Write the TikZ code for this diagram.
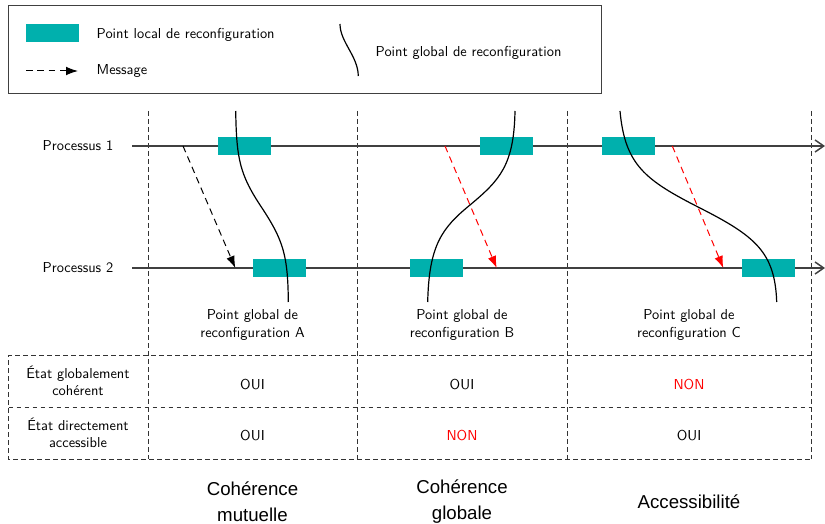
\documentclass[tikz,border=0pt]{standalone}
\usepackage{fontspec}
\newfontfamily\captionfont{Liberation Sans}
\usepackage{xcolor}
\definecolor{mTeal}{HTML}{00B0AD}
\definecolor{mRed}{HTML}{FF0000}
\definecolor{mAxis}{HTML}{404040}
\usepackage{tikz}
\usetikzlibrary{arrows.meta}

\begin{document}
\begin{tikzpicture}[x=0.75pt, y=-0.75pt, font=\sffamily\fontsize{10.8}{13}\selectfont,
  lpoint/.style={fill=mTeal, minimum width=39.75pt, minimum height=13.5pt, inner sep=0pt},
  procline/.style={draw=mAxis, line width=1.1pt, -{Straight Barb[length=6.5pt,width=9pt]}},
  gline/.style={draw=black, line width=0.9pt},
  msg/.style={-{Latex[length=9pt,width=6.5pt]}, dash pattern=on 5pt off 3.5pt, line width=0.75pt},
  sep/.style={draw=black!80, dash pattern=on 3.5pt off 2.5pt, line width=0.7pt},
  capt/.style={align=center, font=\captionfont\fontsize{14}{19.5}\selectfont}]
\useasboundingbox (0,0) rectangle (825,524);

\draw[draw=mAxis, line width=0.75pt] (8.7,6) rectangle (601.7,94);
\node[lpoint] (lgloc) at (52.5,33) {};
\node[anchor=west] (lgloctxt) at (92,35) {Point local de reconfiguration};
\coordinate (lgm1) at (26,71);
\coordinate (lgm2) at (78,71);
\draw[msg] (lgm1) -- (lgm2);
\node[anchor=west] (lgmtxt) at (92,71) {Message};
\coordinate (lgg1) at (340,24);
\coordinate (lgg2) at (358.3,76);
\draw[gline] (lgg1) .. controls (340,42) and (358,56) .. (lgg2);
\node[anchor=west] (lggtxt) at (371,53) {Point global de reconfiguration};

\foreach \x in {148.7,357,567,811.7}
  \draw[sep] (\x,111) -- (\x,459.3);
\draw[sep] (811.7,355) -- (8.7,355) -- (8.7,459.3) -- (811.7,459.3);
\draw[sep] (8.7,407.5) -- (811.7,407.5);

\node (p1) at (78,146) {Processus 1};
\node (p2) at (78,268) {Processus 2};
\coordinate (p1s) at (132,146);
\coordinate (p1e) at (825,146);
\coordinate (p2s) at (132,268);
\coordinate (p2e) at (825,268);
\draw[procline] (p1s) -- (p1e);
\draw[procline] (p2s) -- (p2e);

\node[lpoint] (la1) at (244.4,146) {};
\node[lpoint] (la2) at (279.7,268) {};
\node[lpoint] (lb1) at (506.4,146) {};
\node[lpoint] (lb2) at (436.4,268) {};
\node[lpoint] (lc1) at (628.5,146) {};
\node[lpoint] (lc2) at (768.5,268) {};

\coordinate (ma1) at (183,146);
\coordinate (ma2) at (235.3,268);
\coordinate (mb1) at (445,146);
\coordinate (mb2) at (496.7,268);
\coordinate (mc1) at (672.3,146);
\coordinate (mc2) at (723.3,268);
\draw[msg] (ma1) -- (ma2);
\draw[msg, mRed] (mb1) -- (mb2);
\draw[msg, mRed] (mc1) -- (mc2);

\coordinate (ga1) at (235.7,111);
\coordinate (ga2) at (288.3,302);
\coordinate (gb1) at (515,111);
\coordinate (gb2) at (427.7,302);
\coordinate (gc1) at (620,111);
\coordinate (gc2) at (776.7,302);
\draw[gline] (ga1) .. controls (236.5,160) and (240,175) .. (262,208) .. controls (283,240) and (288,255) .. (ga2);
\draw[gline] (gb1) .. controls (514,165) and (500,180) .. (470,205) .. controls (442,228) and (429,245) .. (gb2);
\draw[gline] (gc1) .. controls (625,165) and (645,180) .. (700,208) .. controls (755,236) and (775,252) .. (gc2);

\node[align=center] (ga) at (252.5,325) {Point global de\\reconfiguration A};
\node[align=center] (gb) at (462,325) {Point global de\\reconfiguration B};
\node[align=center] (gc) at (689,325) {Point global de\\reconfiguration C};

\node[align=center] (r1) at (78,381) {État globalement\\cohérent};
\node[align=center] (r2) at (78,433) {État directement\\accessible};
\node (a1) at (252.5,385) {OUI};
\node (b1) at (462,385) {OUI};
\node[text=mRed] (c1) at (689,385) {NON};
\node (a2) at (252.5,436) {OUI};
\node[text=mRed] (b2) at (462,436) {NON};
\node (c2) at (689,436) {OUI};

\node[capt] (ta) at (252.5,502) {Cohérence\\mutuelle};
\node[capt] (tb) at (462,502) {Cohérence\\globale};
\node[capt] (tc) at (689,502) {Accessibilité};
\end{tikzpicture}
\end{document}
